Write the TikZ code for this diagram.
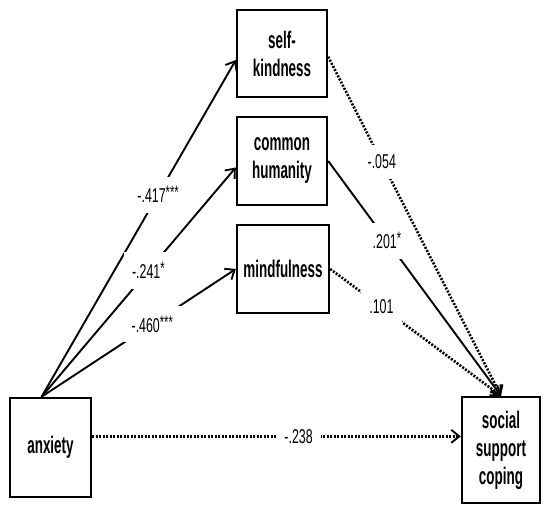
\documentclass[tikz,border=0pt]{standalone}
\usepackage{fontspec}
\setmainfont{Liberation Sans}
\newfontfamily\boxfont[FakeStretch=0.56]{Liberation Sans}
\newfontfamily\coeffont[FakeStretch=0.62]{Liberation Sans}
\newcommand\stars[1]{\raisebox{4pt}{\fontsize{18}{18}\selectfont#1}}
\usetikzlibrary{arrows.meta}

\begin{document}
\begin{tikzpicture}[x=1pt,y=-1pt,
    var/.style={draw,line width=2.4pt,inner sep=0pt,align=center,
      font=\boxfont\bfseries\fontsize{24}{28}\selectfont},
    coef/.style={fill=white,inner xsep=8pt,inner ysep=10pt,
      font=\coeffont\fontsize{20}{20}\selectfont},
    eff/.style={line width=1.9pt,-{Straight Barb[length=8pt,width=13pt,line width=1.9pt]}},
    effns/.style={eff,line width=2.6pt,dash pattern=on 2pt off 1.5pt}]
    \useasboundingbox (0,0) rectangle (547,505);
    % variables
    \node[var,minimum width=90pt,minimum height=87pt] (selfk) at (282,53.5) {self-\\kindness};
    \node[var,minimum width=90pt,minimum height=88pt] (commh) at (282,161) {common\\humanity};
    \node[var,minimum width=92pt,minimum height=88pt] (mindf) at (283,269) {mindfulness};
    \node[var,minimum width=81pt,minimum height=99pt] (anx) at (50.5,447.5) {anxiety};
    \node[var,minimum width=78pt,minimum height=106pt] (ssc) at (501,450) {social\\support\\coping};
    % anxiety -> components
    \draw[eff] (anx.100) to node[coef,pos=0.6]{-.417\stars{***}} (selfk.188);
    \draw[eff] (anx.100) to node[coef,pos=0.55]{-.241\stars{*}} (commh.188);
    \draw[eff] (anx.100) to node[coef,pos=0.57]{-.460\stars{***}} (mindf.west);
    % components -> coping
    \draw[effns] (selfk.356) to node[coef,pos=0.31]{-.054} (ssc.north);
    \draw[eff] (commh.east) to node[coef,pos=0.34]{.201\stars{*}} (ssc.north);
    \draw[effns] (mindf.east) to node[coef,pos=0.3]{.101} (ssc.north);
    % direct effect
    \draw[effns] (anx.15) to node[coef,pos=0.56]{-.238} (anx.15 -| ssc.west);
\end{tikzpicture}
\end{document}
